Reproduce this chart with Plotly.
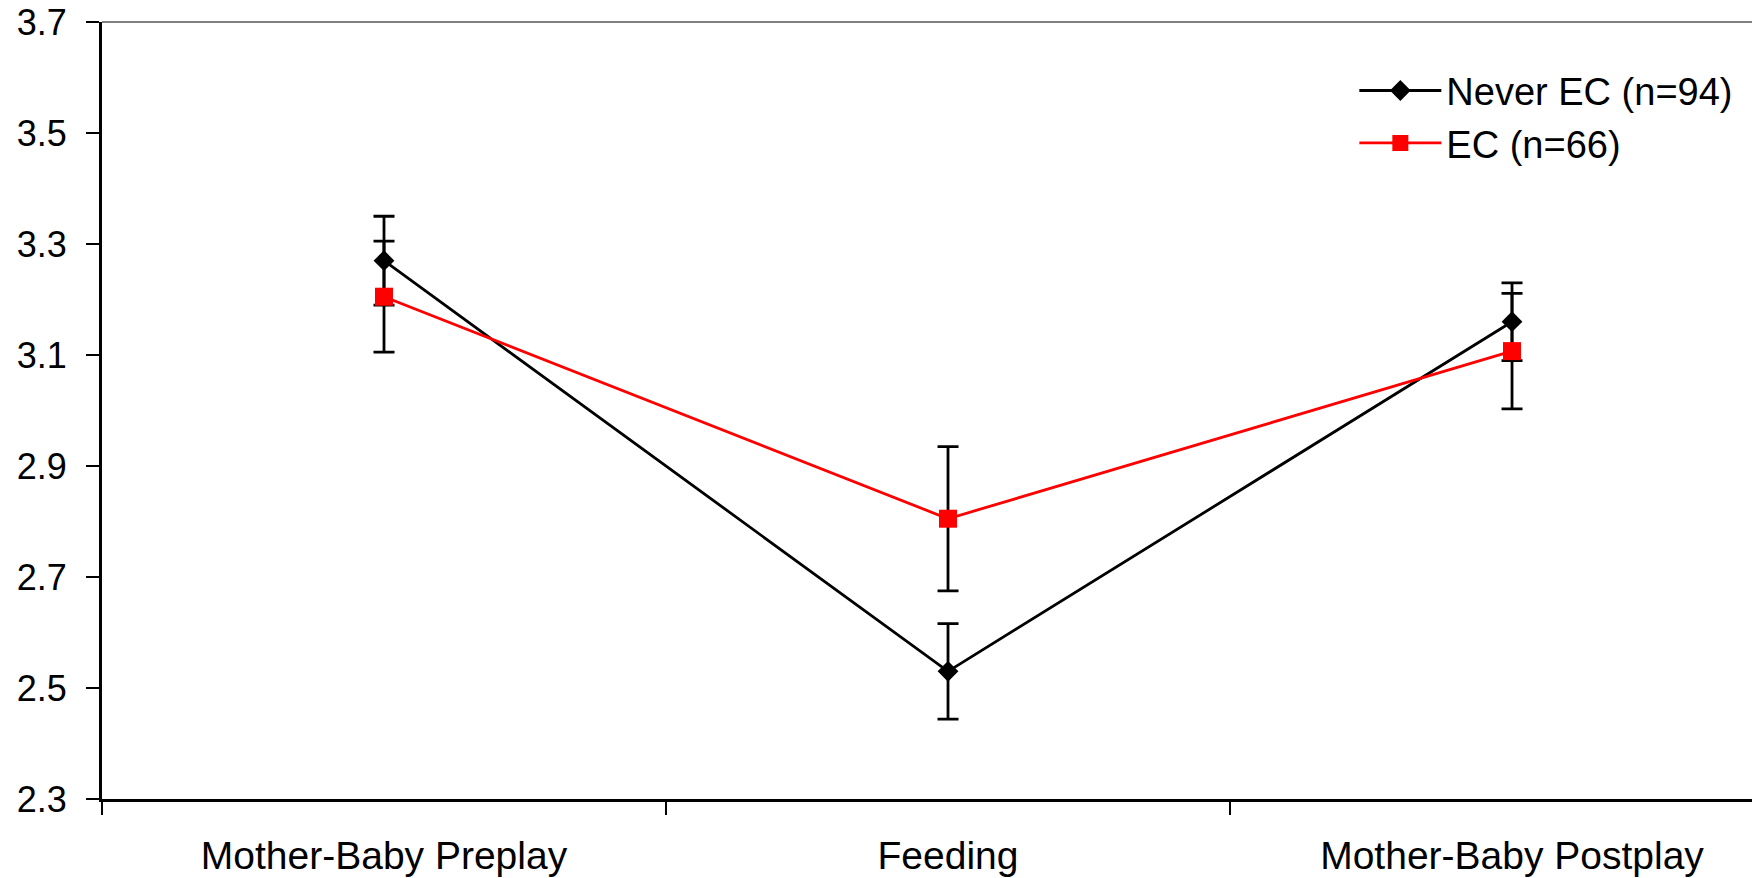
import plotly.graph_objects as go

# Observation phases
phases = ["Mother-Baby Preplay", "Feeding", "Mother-Baby Postplay"]
phase_pos = [0, 1, 2]
phase_bounds = [-0.5, 0.5, 1.5]

# Group means and error-bar half widths
never_ec_mean = [3.27, 2.53, 3.16]
never_ec_err = [0.08, 0.086, 0.07]
ec_mean = [3.205, 2.805, 3.107]
ec_err = [0.10, 0.13, 0.104]

y_ticks = [2.3, 2.5, 2.7, 2.9, 3.1, 3.3, 3.5, 3.7]

FONT = "Liberation Sans, Arial, sans-serif"

fig = go.Figure()
fig.add_trace(go.Scatter(
    x=phase_pos, y=never_ec_mean, name="Never EC (n=94)",
    mode="lines+markers",
    line=dict(color="black", width=2.8),
    marker=dict(symbol="diamond", size=16, color="black"),
    error_y=dict(type="data", array=never_ec_err, color="black",
                 thickness=2.8, width=10.5),
))
fig.add_trace(go.Scatter(
    x=phase_pos, y=ec_mean, name="EC (n=66)",
    mode="lines+markers",
    line=dict(color="#ff0000", width=2.8),
    marker=dict(symbol="square", size=18, color="#ff0000"),
    error_y=dict(type="data", array=ec_err, color="black",
                 thickness=2.8, width=10.5),
))

fig.update_layout(
    width=1752, height=878,
    margin=dict(l=102, r=0, t=22, b=79),
    paper_bgcolor="white", plot_bgcolor="white",
    font=dict(family=FONT, size=39, color="black"),
    showlegend=True,
    legend=dict(x=0.759, y=0.952, xanchor="left", yanchor="top",
                bgcolor="rgba(0,0,0,0)", itemwidth=82,
                font=dict(family=FONT, size=38, color="black"),
                tracegroupgap=0, itemsizing="trace"),
    xaxis=dict(
        range=[-0.5, 2.4255], showgrid=False, zeroline=False,
        showline=True, linecolor="black", linewidth=3,
        tickmode="array", tickvals=phase_pos, ticktext=phases,
        ticks="", ticklabelstandoff=20,
        minor=dict(tickmode="array", tickvals=phase_bounds, ticks="outside",
                   ticklen=13, tickwidth=2, tickcolor="black", showgrid=False),
    ),
    yaxis=dict(
        range=[2.3, 3.7], showgrid=False, zeroline=False,
        showline=True, linecolor="black", linewidth=3,
        tickmode="array", tickvals=y_ticks, tickformat=".1f",
        tickfont=dict(size=36),
        ticks="outside", ticklen=13, tickwidth=2, tickcolor="black",
        ticklabelstandoff=12,
    ),
)

# Gray frame line along the top of the plotting area
fig.add_shape(type="line", xref="paper", yref="paper", x0=0, x1=1, y0=1, y1=1,
              line=dict(color="#808080", width=2))

fig.write_html("out.html")
